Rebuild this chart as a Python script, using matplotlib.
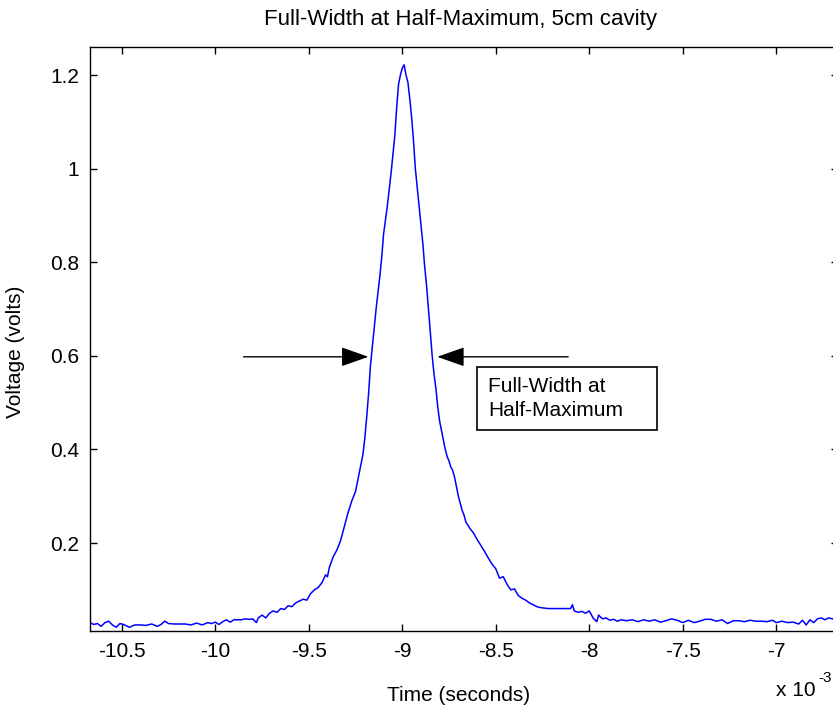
import matplotlib
matplotlib.use('Agg')
import matplotlib.pyplot as plt
from matplotlib.patches import Rectangle
from matplotlib.ticker import FuncFormatter

# time in ms (axis shows x 10^-3 s), voltage in volts
time_ms = [
    -10.67, -10.65, -10.63, -10.61, -10.59, -10.57, -10.55, -10.53, -10.51, -10.49,
    -10.46, -10.43, -10.40, -10.37, -10.34, -10.31, -10.29, -10.27, -10.25, -10.22,
    -10.19, -10.16, -10.13, -10.10, -10.07, -10.04, -10.02, -10.00, -9.98, -9.96,
    -9.94, -9.92, -9.90, -9.88, -9.86, -9.84, -9.82, -9.80, -9.78, -9.77,
    -9.75, -9.73, -9.71, -9.69, -9.67, -9.65, -9.63, -9.61, -9.59, -9.57,
    -9.55, -9.53, -9.51, -9.49, -9.47, -9.45, -9.43, -9.41, -9.40, -9.39,
    -9.37, -9.35, -9.33, -9.31, -9.29, -9.27, -9.25, -9.23, -9.21, -9.20,
    -9.19, -9.18, -9.17, -9.16, -9.15, -9.14, -9.12, -9.11, -9.10, -9.08,
    -9.06, -9.05, -9.04, -9.03, -9.02, -9.01, -9.00, -8.99, -8.98, -8.97,
    -8.96, -8.95, -8.94, -8.93, -8.92, -8.91, -8.90, -8.89, -8.88, -8.87,
    -8.86, -8.85, -8.84, -8.83, -8.82, -8.81, -8.80, -8.79, -8.78, -8.77,
    -8.76, -8.75, -8.74, -8.73, -8.72, -8.71, -8.70, -8.69, -8.68, -8.67,
    -8.66, -8.64, -8.62, -8.60, -8.58, -8.56, -8.54, -8.52, -8.50, -8.48,
    -8.46, -8.44, -8.42, -8.40, -8.38, -8.36, -8.34, -8.32, -8.30, -8.28,
    -8.26, -8.22, -8.18, -8.14, -8.10, -8.09, -8.08, -8.06, -8.04, -8.02,
    -8.00, -7.98, -7.96, -7.95, -7.93, -7.91, -7.89, -7.87, -7.85, -7.83,
    -7.80, -7.77, -7.74, -7.71, -7.68, -7.65, -7.62, -7.59, -7.56, -7.53,
    -7.50, -7.47, -7.44, -7.41, -7.38, -7.35, -7.32, -7.29, -7.26, -7.23,
    -7.20, -7.17, -7.14, -7.11, -7.08, -7.05, -7.02, -7.00, -6.97, -6.94,
    -6.91, -6.88, -6.86, -6.84, -6.82, -6.80, -6.78, -6.76, -6.74, -6.72,
    -6.70, -6.67,
]
voltage = [
    0.030, 0.026, 0.028, 0.022, 0.030, 0.033, 0.025, 0.020, 0.028, 0.026,
    0.020, 0.025, 0.025, 0.024, 0.027, 0.022, 0.026, 0.033, 0.028, 0.027,
    0.027, 0.027, 0.025, 0.029, 0.025, 0.030, 0.028, 0.031, 0.026, 0.032,
    0.036, 0.031, 0.036, 0.036, 0.036, 0.038, 0.037, 0.038, 0.030, 0.040,
    0.046, 0.040, 0.050, 0.055, 0.052, 0.060, 0.058, 0.066, 0.064, 0.072,
    0.076, 0.080, 0.078, 0.092, 0.100, 0.105, 0.115, 0.132, 0.128, 0.148,
    0.170, 0.185, 0.205, 0.235, 0.265, 0.290, 0.310, 0.350, 0.390, 0.425,
    0.470, 0.520, 0.580, 0.620, 0.660, 0.700, 0.770, 0.810, 0.860, 0.920,
    0.990, 1.030, 1.070, 1.130, 1.180, 1.200, 1.215, 1.222, 1.200, 1.185,
    1.150, 1.110, 1.060, 1.000, 0.960, 0.920, 0.880, 0.840, 0.790, 0.750,
    0.700, 0.650, 0.600, 0.560, 0.530, 0.490, 0.460, 0.440, 0.420, 0.400,
    0.385, 0.375, 0.362, 0.355, 0.340, 0.320, 0.300, 0.285, 0.270, 0.260,
    0.245, 0.232, 0.222, 0.208, 0.195, 0.182, 0.168, 0.155, 0.145, 0.125,
    0.128, 0.112, 0.100, 0.102, 0.088, 0.082, 0.078, 0.072, 0.068, 0.064,
    0.062, 0.060, 0.060, 0.060, 0.060, 0.068, 0.055, 0.052, 0.054, 0.050,
    0.055, 0.040, 0.032, 0.046, 0.038, 0.040, 0.035, 0.037, 0.033, 0.036,
    0.034, 0.036, 0.032, 0.036, 0.033, 0.036, 0.031, 0.034, 0.038, 0.035,
    0.030, 0.035, 0.030, 0.033, 0.037, 0.037, 0.033, 0.036, 0.028, 0.034,
    0.034, 0.032, 0.035, 0.033, 0.033, 0.032, 0.035, 0.030, 0.033, 0.030,
    0.031, 0.027, 0.035, 0.025, 0.036, 0.030, 0.038, 0.040, 0.036, 0.040,
    0.038, 0.040,
]

x_ticks = [-10.5, -10, -9.5, -9, -8.5, -8, -7.5, -7]
y_ticks = [0.2, 0.4, 0.6, 0.8, 1.0, 1.2]

# annotation geometry (data units)
arrow_y = 0.598
left_arrow = (-9.849, -9.181)    # tail, tip
right_arrow = (-8.113, -8.813)
box_xy = (-8.599, 0.4415)
box_w, box_h = 0.961, 0.1345

plt.rcParams['font.family'] = ['Liberation Sans', 'DejaVu Sans']
plt.rcParams['axes.unicode_minus'] = False

fig = plt.figure(figsize=(8.33, 7.06), dpi=100)
ax = fig.add_axes([0.1080, 0.1062, 0.898, 0.8272])

ax.plot(time_ms, voltage, color='#0000ff', lw=1.1)

ax.set_xlim(-10.67, -6.67)
ax.set_ylim(0.012, 1.26)
ax.set_xticks(x_ticks)
ax.set_yticks(y_ticks)
fmt = FuncFormatter(lambda v, p: '%g' % v)
ax.xaxis.set_major_formatter(fmt)
ax.yaxis.set_major_formatter(fmt)
ax.tick_params(direction='in', length=5, width=1, labelsize=15,
               top=True, right=True, pad=8)
for s in ax.spines.values():
    s.set_linewidth(1)

ax.set_xlabel('Time (seconds)', fontsize=15)
ax.xaxis.set_label_coords(0.493, -0.094)
ax.set_ylabel('Voltage (volts)', fontsize=15)
ax.yaxis.set_label_coords(-0.087, 0.478)
fig.text(461 / 833, 1 - 20 / 706, 'Full-Width at Half-Maximum, 5cm cavity',
         ha='center', va='center', fontsize=16)
# exponent label below the right end of the x axis
fig.text(0.932, 0.008, 'x 10', fontsize=15, ha='left', va='bottom')
fig.text(0.983, 0.030, '-3', fontsize=11, ha='left', va='bottom')

arrow_props = dict(arrowstyle='-|>,head_length=0.85,head_width=0.3',
                   color='black', lw=1, mutation_scale=20,
                   shrinkA=0, shrinkB=0)
ax.annotate('', xy=(left_arrow[1], arrow_y), xytext=(left_arrow[0], arrow_y),
            arrowprops=arrow_props)
ax.annotate('', xy=(right_arrow[1], arrow_y), xytext=(right_arrow[0], arrow_y),
            arrowprops=arrow_props)

ax.add_patch(Rectangle(box_xy, box_w, box_h, fill=False, ec='black', lw=1.2))
ax.text(box_xy[0] + 0.058, box_xy[1] + box_h / 2, 'Full-Width at\nHalf-Maximum',
        fontsize=15, ha='left', va='center', linespacing=1.3)

fig.savefig('out.png', dpi=100)
